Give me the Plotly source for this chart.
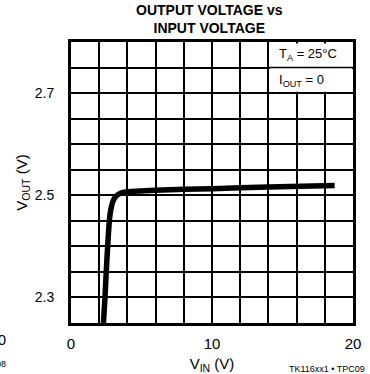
import plotly.graph_objects as go

# Output voltage vs input voltage (T_A = 25°C, I_OUT = 0)
vin = [2.30, 2.41, 2.50, 2.60, 2.72, 2.81, 2.95, 3.15, 3.50, 4.0, 6.0, 10.0, 14.0, 18.7]
vout = [2.250, 2.300, 2.350, 2.400, 2.450, 2.470, 2.486, 2.497, 2.504, 2.507, 2.510, 2.513, 2.516, 2.519]

x_ticks = [0, 10, 20]
y_ticks = [2.3, 2.5, 2.7]

FONT = "Liberation Sans, Arial, Helvetica, sans-serif"

fig = go.Figure()
fig.add_trace(go.Scatter(
    x=vin, y=vout, mode="lines",
    line=dict(color="black", width=5.5, shape="spline", smoothing=0.6),
    hoverinfo="skip", showlegend=False,
))

fig.update_layout(
    width=370, height=374,
    margin=dict(l=71, r=17, t=42, b=51),
    paper_bgcolor="white", plot_bgcolor="white",
    font=dict(family=FONT, color="black", size=14),
    showlegend=False,
)

fig.update_xaxes(
    range=[0, 20], tickvals=x_ticks, ticktext=[str(v) for v in x_ticks],
    showgrid=True, gridcolor="black", gridwidth=1.6,
    minor=dict(dtick=2, showgrid=True, gridcolor="black", gridwidth=1.6),
    showline=True, linecolor="black", linewidth=3, mirror=True,
    ticks="", zeroline=False, tickfont=dict(size=15), automargin=False,
    ticklabelstandoff=5,
    title=dict(text="V<sub>IN</sub> (V)", font=dict(size=15), standoff=12),
)
fig.update_yaxes(
    range=[2.25, 2.8], tickvals=y_ticks, ticktext=[f"{v:.1f}" for v in y_ticks],
    showgrid=True, gridcolor="black", gridwidth=1.6,
    minor=dict(dtick=0.05, tick0=2.25, showgrid=True, gridcolor="black", gridwidth=1.6),
    showline=True, linecolor="black", linewidth=3, mirror=True,
    ticks="", zeroline=False, tickfont=dict(size=14), automargin=False,
    ticklabelstandoff=11,
    title=dict(text="V<sub>OUT</sub> (V)", font=dict(size=15), standoff=4),
)

# Condition box in the upper-right corner
fig.add_shape(type="rect", xref="x", yref="y", x0=14.1, x1=19.93, y0=2.7025, y1=2.797,
              fillcolor="white", line=dict(width=0), layer="between")
fig.add_shape(type="line", xref="x", yref="y", x0=14, x1=20, y0=2.75, y1=2.75,
              line=dict(color="black", width=1.6), layer="between")
fig.add_annotation(x=14.6, y=2.775, xref="x", yref="y", xanchor="left", yanchor="middle",
                   text="T<sub>A</sub> = 25°C", showarrow=False, font=dict(size=13))
fig.add_annotation(x=14.6, y=2.725, xref="x", yref="y", xanchor="left", yanchor="middle",
                   text="I<sub>OUT</sub> = 0", showarrow=False, font=dict(size=13))

# Title
fig.add_annotation(x=0.49, y=1.0 + 42 / 281, xref="paper", yref="paper", yanchor="top",
                   text="<b>OUTPUT VOLTAGE vs<br>INPUT VOLTAGE</b>", showarrow=False,
                   font=dict(size=14), align="center")

# Figure reference code
fig.add_annotation(x=1.05, y=-0.14, xref="paper", yref="paper", xanchor="right", yanchor="top",
                   text="TK116xx1 • TPC09", showarrow=False, font=dict(size=9))

# Edge of the neighbouring graph
fig.add_annotation(x=-0.223, y=-0.02, xref="paper", yref="paper", xanchor="right", yanchor="top",
                   text="100", showarrow=False, font=dict(size=15))
fig.add_annotation(x=-0.223, y=-0.12, xref="paper", yref="paper", xanchor="right", yanchor="top",
                   text="TPC08", showarrow=False, font=dict(size=9))

fig.write_html("out.html")
